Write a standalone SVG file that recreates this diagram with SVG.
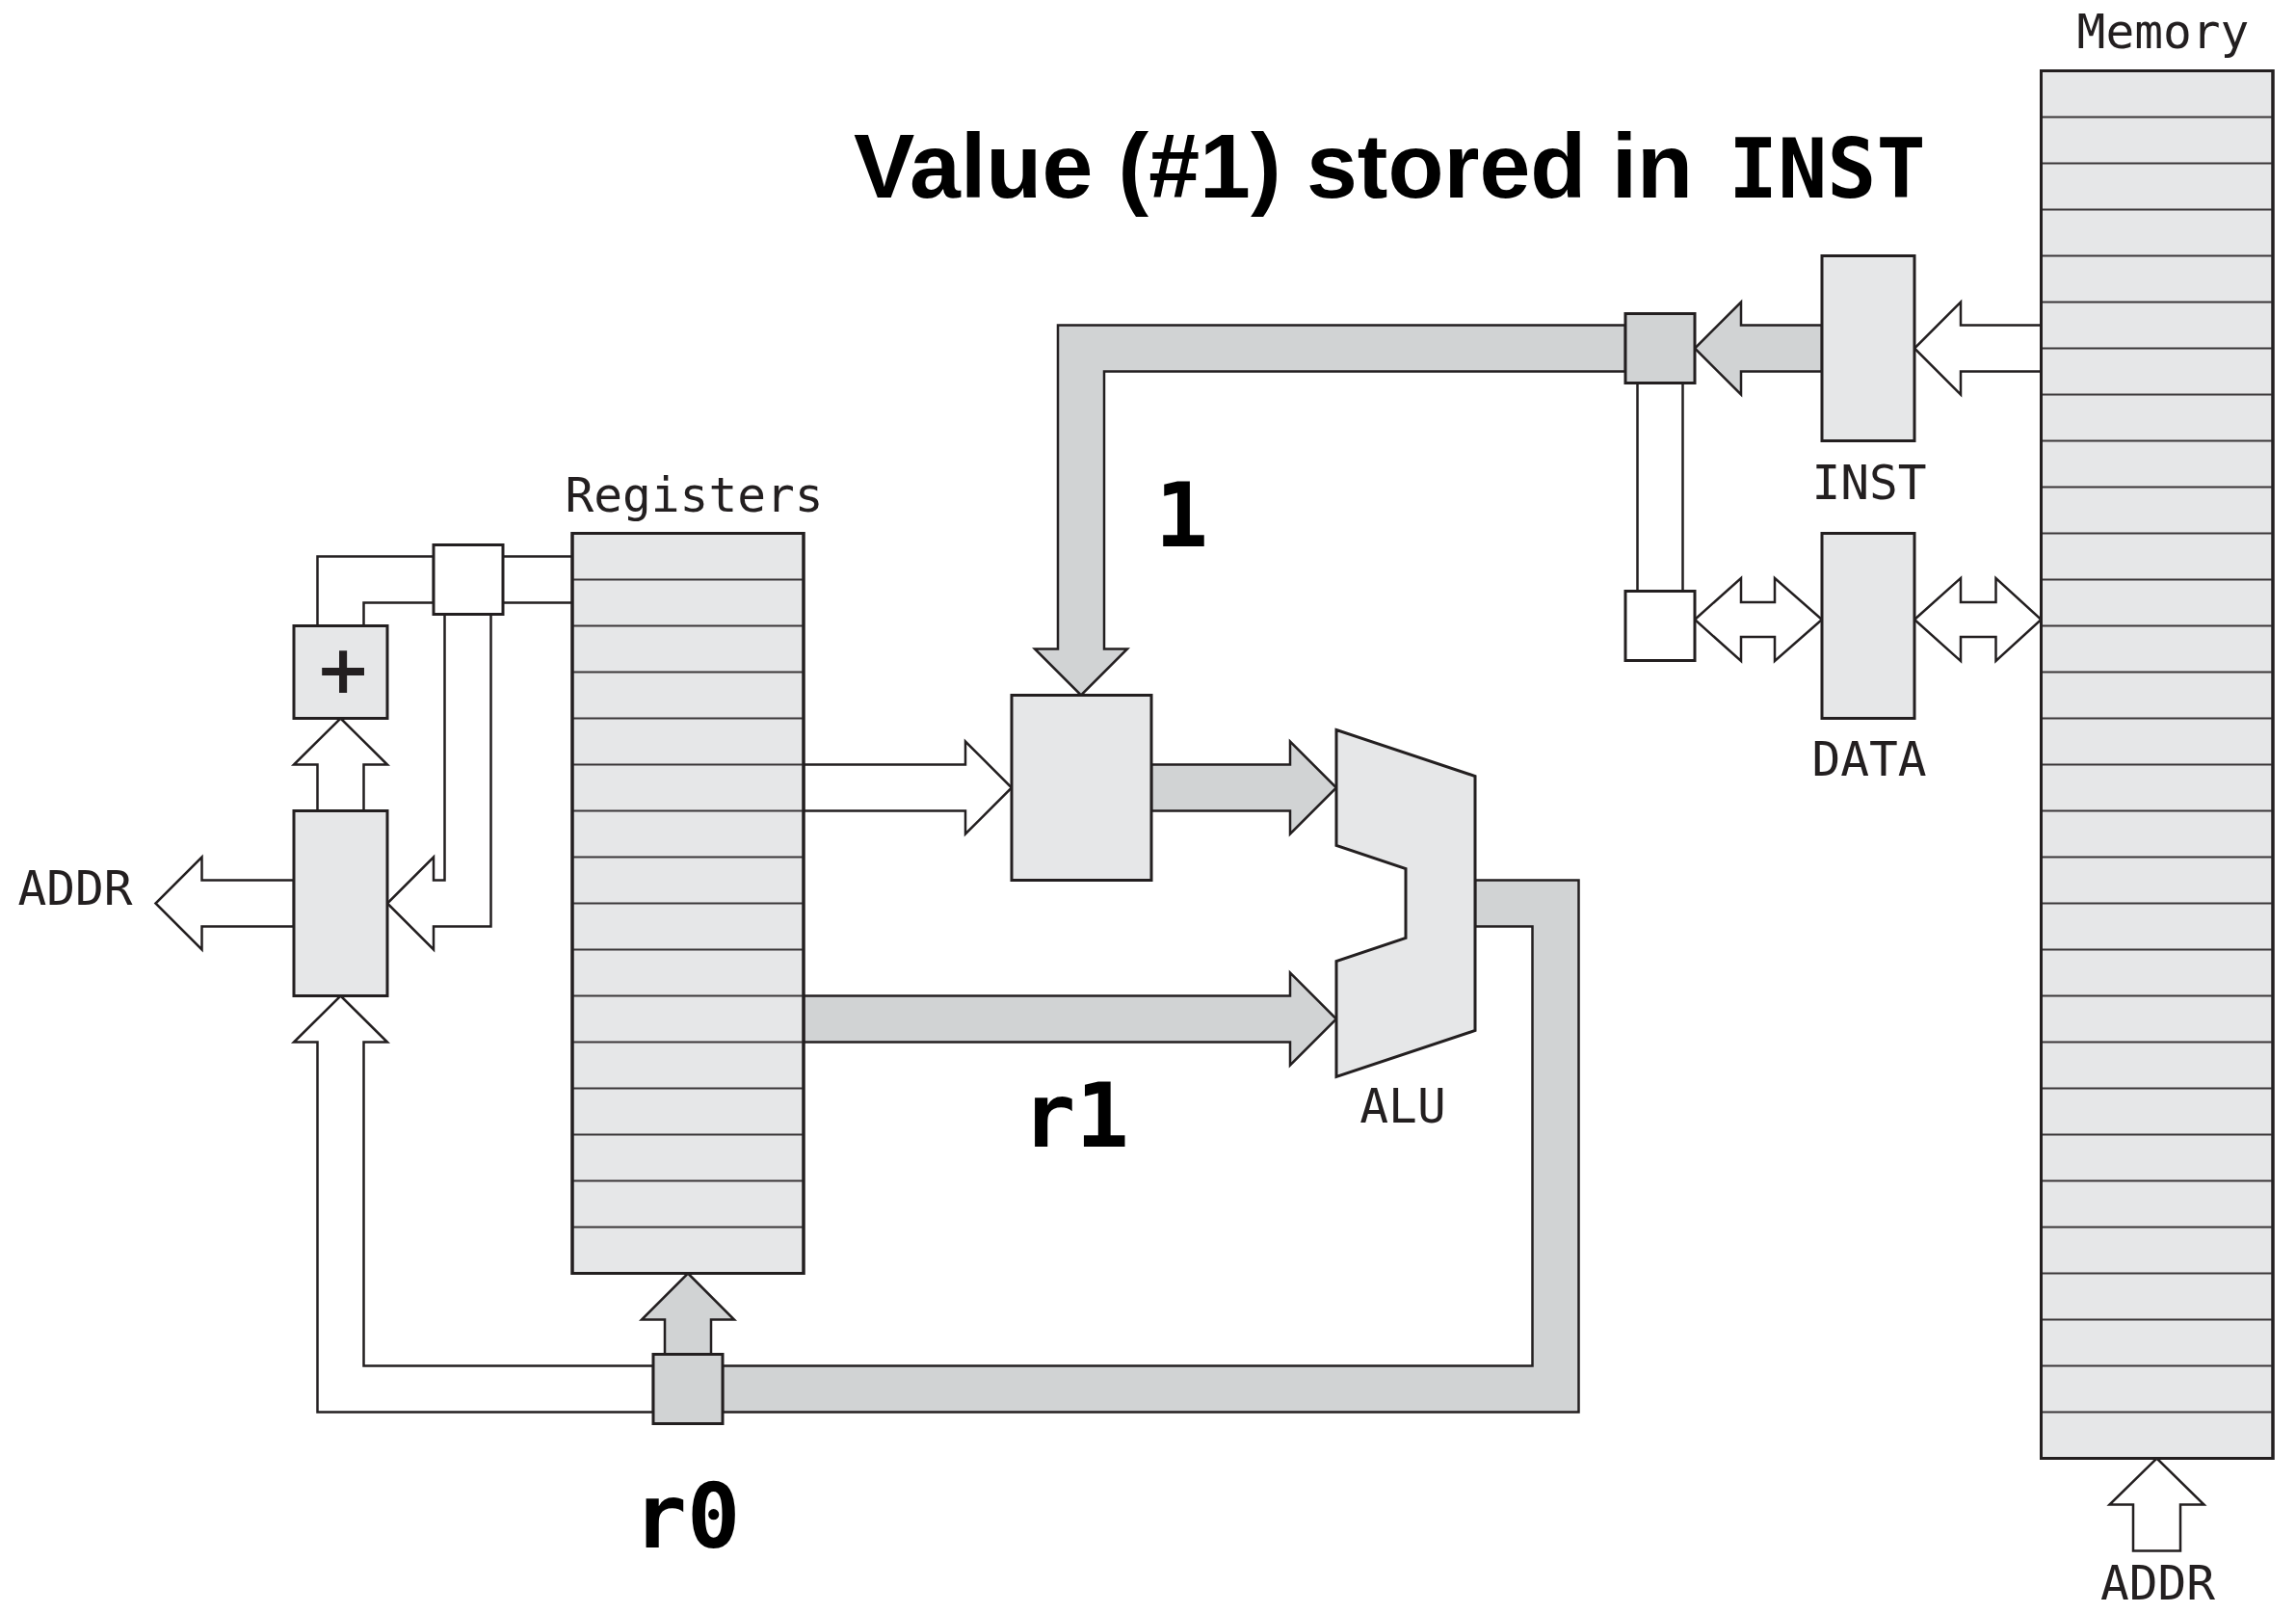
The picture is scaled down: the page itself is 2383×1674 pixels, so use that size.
<svg xmlns="http://www.w3.org/2000/svg" width="2383" height="1674" viewBox="0 0 2383 1674">
<style>
.box{fill:#e6e7e8;stroke:#231f20;stroke-width:3}
.gbox{fill:#d1d3d4;stroke:#231f20;stroke-width:3}
.wbox{fill:#ffffff;stroke:#231f20;stroke-width:3}
.row{stroke:#3a3738;stroke-width:2;fill:none}
.wbus{fill:#ffffff;stroke:#231f20;stroke-width:2.5;stroke-linejoin:miter}
.gbus{fill:#d1d3d4;stroke:#231f20;stroke-width:2.5;stroke-linejoin:miter}
.line{fill:none;stroke:#231f20;stroke-width:2.5}
.lbl{font-family:"DejaVu Sans Mono",monospace;font-size:49.5px;fill:#231f20;text-anchor:middle}
.big{font-family:"DejaVu Sans Mono",monospace;font-weight:bold;font-size:92px;fill:#000;text-anchor:middle}
</style>
<rect width="2383" height="1674" fill="#ffffff"/>

<g id="title">
<text y="205" font-family="'Liberation Sans',Arial,sans-serif" font-weight="bold" font-size="95" fill="#000"><tspan x="886">Value (#1) stored in</tspan><tspan x="1794" font-family="'DejaVu Sans Mono',monospace" font-size="85">INST</tspan></text>
</g>

<g id="connectors">
<rect x="522" y="577.5" width="72" height="48" fill="#ffffff" stroke="none"/>
<path class="line" d="M522 577.5H594M522 625.5H594"/>
<path class="wbus" d="M450 577.5H329.5V649.5H377.5V625.5H450Z"/>
<path class="wbus" d="M461.5 637.5V913.5H450V889.5L402 937.5L450 985.5V961.5H509.5V637.5Z"/>
<path class="wbus" d="M353.5 745.5L402 793.5H377.5V841.5H329.5V793.5H305Z"/>
<path class="wbus" d="M305 913.5H209.5V889.5L161.5 937.5L209.5 985.5V961.5H305Z"/>
<path class="wbus" d="M353.5 1033.5L402 1081.5H377.5V1417.5H678V1465.5H329.5V1081.5H305Z"/>
<path class="gbus" d="M714 1321.5L762 1369.5H738V1405.5H690V1369.5H666Z"/>
<path class="gbus" d="M1531 913.5H1638.5V1465.5H750V1417.5H1590.5V961.5H1531Z"/>
<path class="wbus" d="M834 793.5H1002V769.5L1050 817.5L1002 865.5V841.5H834Z"/>
<path class="gbus" d="M1195 793.5H1339V769.5L1387 817.5L1339 865.5V841.5H1195Z"/>
<path class="gbus" d="M834 1033.5H1339V1009.5L1387 1057.5L1339 1105.5V1081.5H834Z"/>
<path class="gbus" d="M1687 337.5H1098V673.5H1074L1122 721.5L1170 673.5H1146V385.5H1687Z"/>
<path class="gbus" d="M1891 337.5H1807V313.5L1759 361.5L1807 409.5V385.5H1891Z"/>
<path class="wbus" d="M2118.5 337.5H2035V313.5L1987 361.5L2035 409.5V385.5H2118.5Z"/>
<rect x="1699.5" y="397.5" width="47" height="216" fill="#ffffff" stroke="none"/>
<path class="line" d="M1699.5 397.5V613.5M1746.5 397.5V613.5"/>
<path class="wbus" d="M1759 643L1807 600V625H1842V600L1891 643L1842 686V661H1807V686Z"/>
<path class="wbus" d="M1987 643L2035 600V625H2071.5V600L2118.5 643L2071.5 686V661H2035V686Z"/>
<path class="wbus" d="M2238.5 1513.5L2287.5 1561.5H2263V1609.5H2214V1561.5H2189.5Z"/>
</g>

<g id="registers">
<rect class="box" x="594" y="553.5" width="240" height="768"/>
<path class="row" d="M594 601.5H834M594 649.5H834M594 697.5H834M594 745.5H834M594 793.5H834M594 841.5H834M594 889.5H834M594 937.5H834M594 985.5H834M594 1033.5H834M594 1081.5H834M594 1129.5H834M594 1177.5H834M594 1225.5H834M594 1273.5H834"/>
<rect x="594" y="553.5" width="240" height="768" fill="none" stroke="#231f20" stroke-width="3"/>
<text class="lbl" x="720.5" y="530.5">Registers</text>
</g>

<g id="mux-small">
<rect class="wbox" x="450" y="565.5" width="72" height="72"/>
</g>

<g id="adder">
<rect class="box" x="305" y="649.5" width="97" height="96"/>
<text x="356" y="719" font-family="'DejaVu Sans',sans-serif" font-weight="bold" font-size="70" fill="#231f20" text-anchor="middle">+</text>
</g>

<g id="addr-register">
<rect class="box" x="305" y="841.5" width="97" height="192"/>
</g>

<g id="addr-label-left">
<text class="lbl" x="78" y="939">ADDR</text>
</g>

<g id="r0-box">
<rect class="gbox" x="678" y="1405.5" width="72" height="72"/>
</g>

<g id="operand-box">
<rect class="box" x="1050" y="721.5" width="145" height="192"/>
</g>

<g id="alu">
<path class="box" d="M1387 757.5L1531 805.5V1069.5L1387 1117.5V997.5L1459 973.5V901.5L1387 877.5Z"/>
<text class="lbl" x="1456" y="1165">ALU</text>
</g>

<g id="junction-box">
<rect class="gbox" x="1687" y="325.5" width="72" height="72"/>
</g>

<g id="lower-box">
<rect class="wbox" x="1687" y="613.5" width="72" height="72"/>
</g>

<g id="inst">
<rect class="box" x="1891" y="265.5" width="96" height="192"/>
<text class="lbl" x="1940" y="517.5">INST</text>
</g>

<g id="data">
<rect class="box" x="1891" y="553.5" width="96" height="192"/>
<text class="lbl" x="1940" y="804.5">DATA</text>
</g>

<g id="memory">
<rect class="box" x="2118.5" y="73.5" width="240.5" height="1440"/>
<path class="row" d="M2118.5 121.5H2359M2118.5 169.5H2359M2118.5 217.5H2359M2118.5 265.5H2359M2118.5 313.5H2359M2118.5 361.5H2359M2118.5 409.5H2359M2118.5 457.5H2359M2118.5 505.5H2359M2118.5 553.5H2359M2118.5 601.5H2359M2118.5 649.5H2359M2118.5 697.5H2359M2118.5 745.5H2359M2118.5 793.5H2359M2118.5 841.5H2359M2118.5 889.5H2359M2118.5 937.5H2359M2118.5 985.5H2359M2118.5 1033.5H2359M2118.5 1081.5H2359M2118.5 1129.5H2359M2118.5 1177.5H2359M2118.5 1225.5H2359M2118.5 1273.5H2359M2118.5 1321.5H2359M2118.5 1369.5H2359M2118.5 1417.5H2359M2118.5 1465.5H2359"/>
<rect x="2118.5" y="73.5" width="240.5" height="1440" fill="none" stroke="#231f20" stroke-width="3"/>
<text class="lbl" x="2245" y="50">Memory</text>
<text class="lbl" x="2239.5" y="1660">ADDR</text>
</g>

<g id="value-labels">
<text class="big" x="1226.5" y="567">1</text>
<text class="big" x="1116.5" y="1190" font-size="97">r1</text>
<text class="big" x="713" y="1606" font-size="97">r0</text>
</g>
</svg>
